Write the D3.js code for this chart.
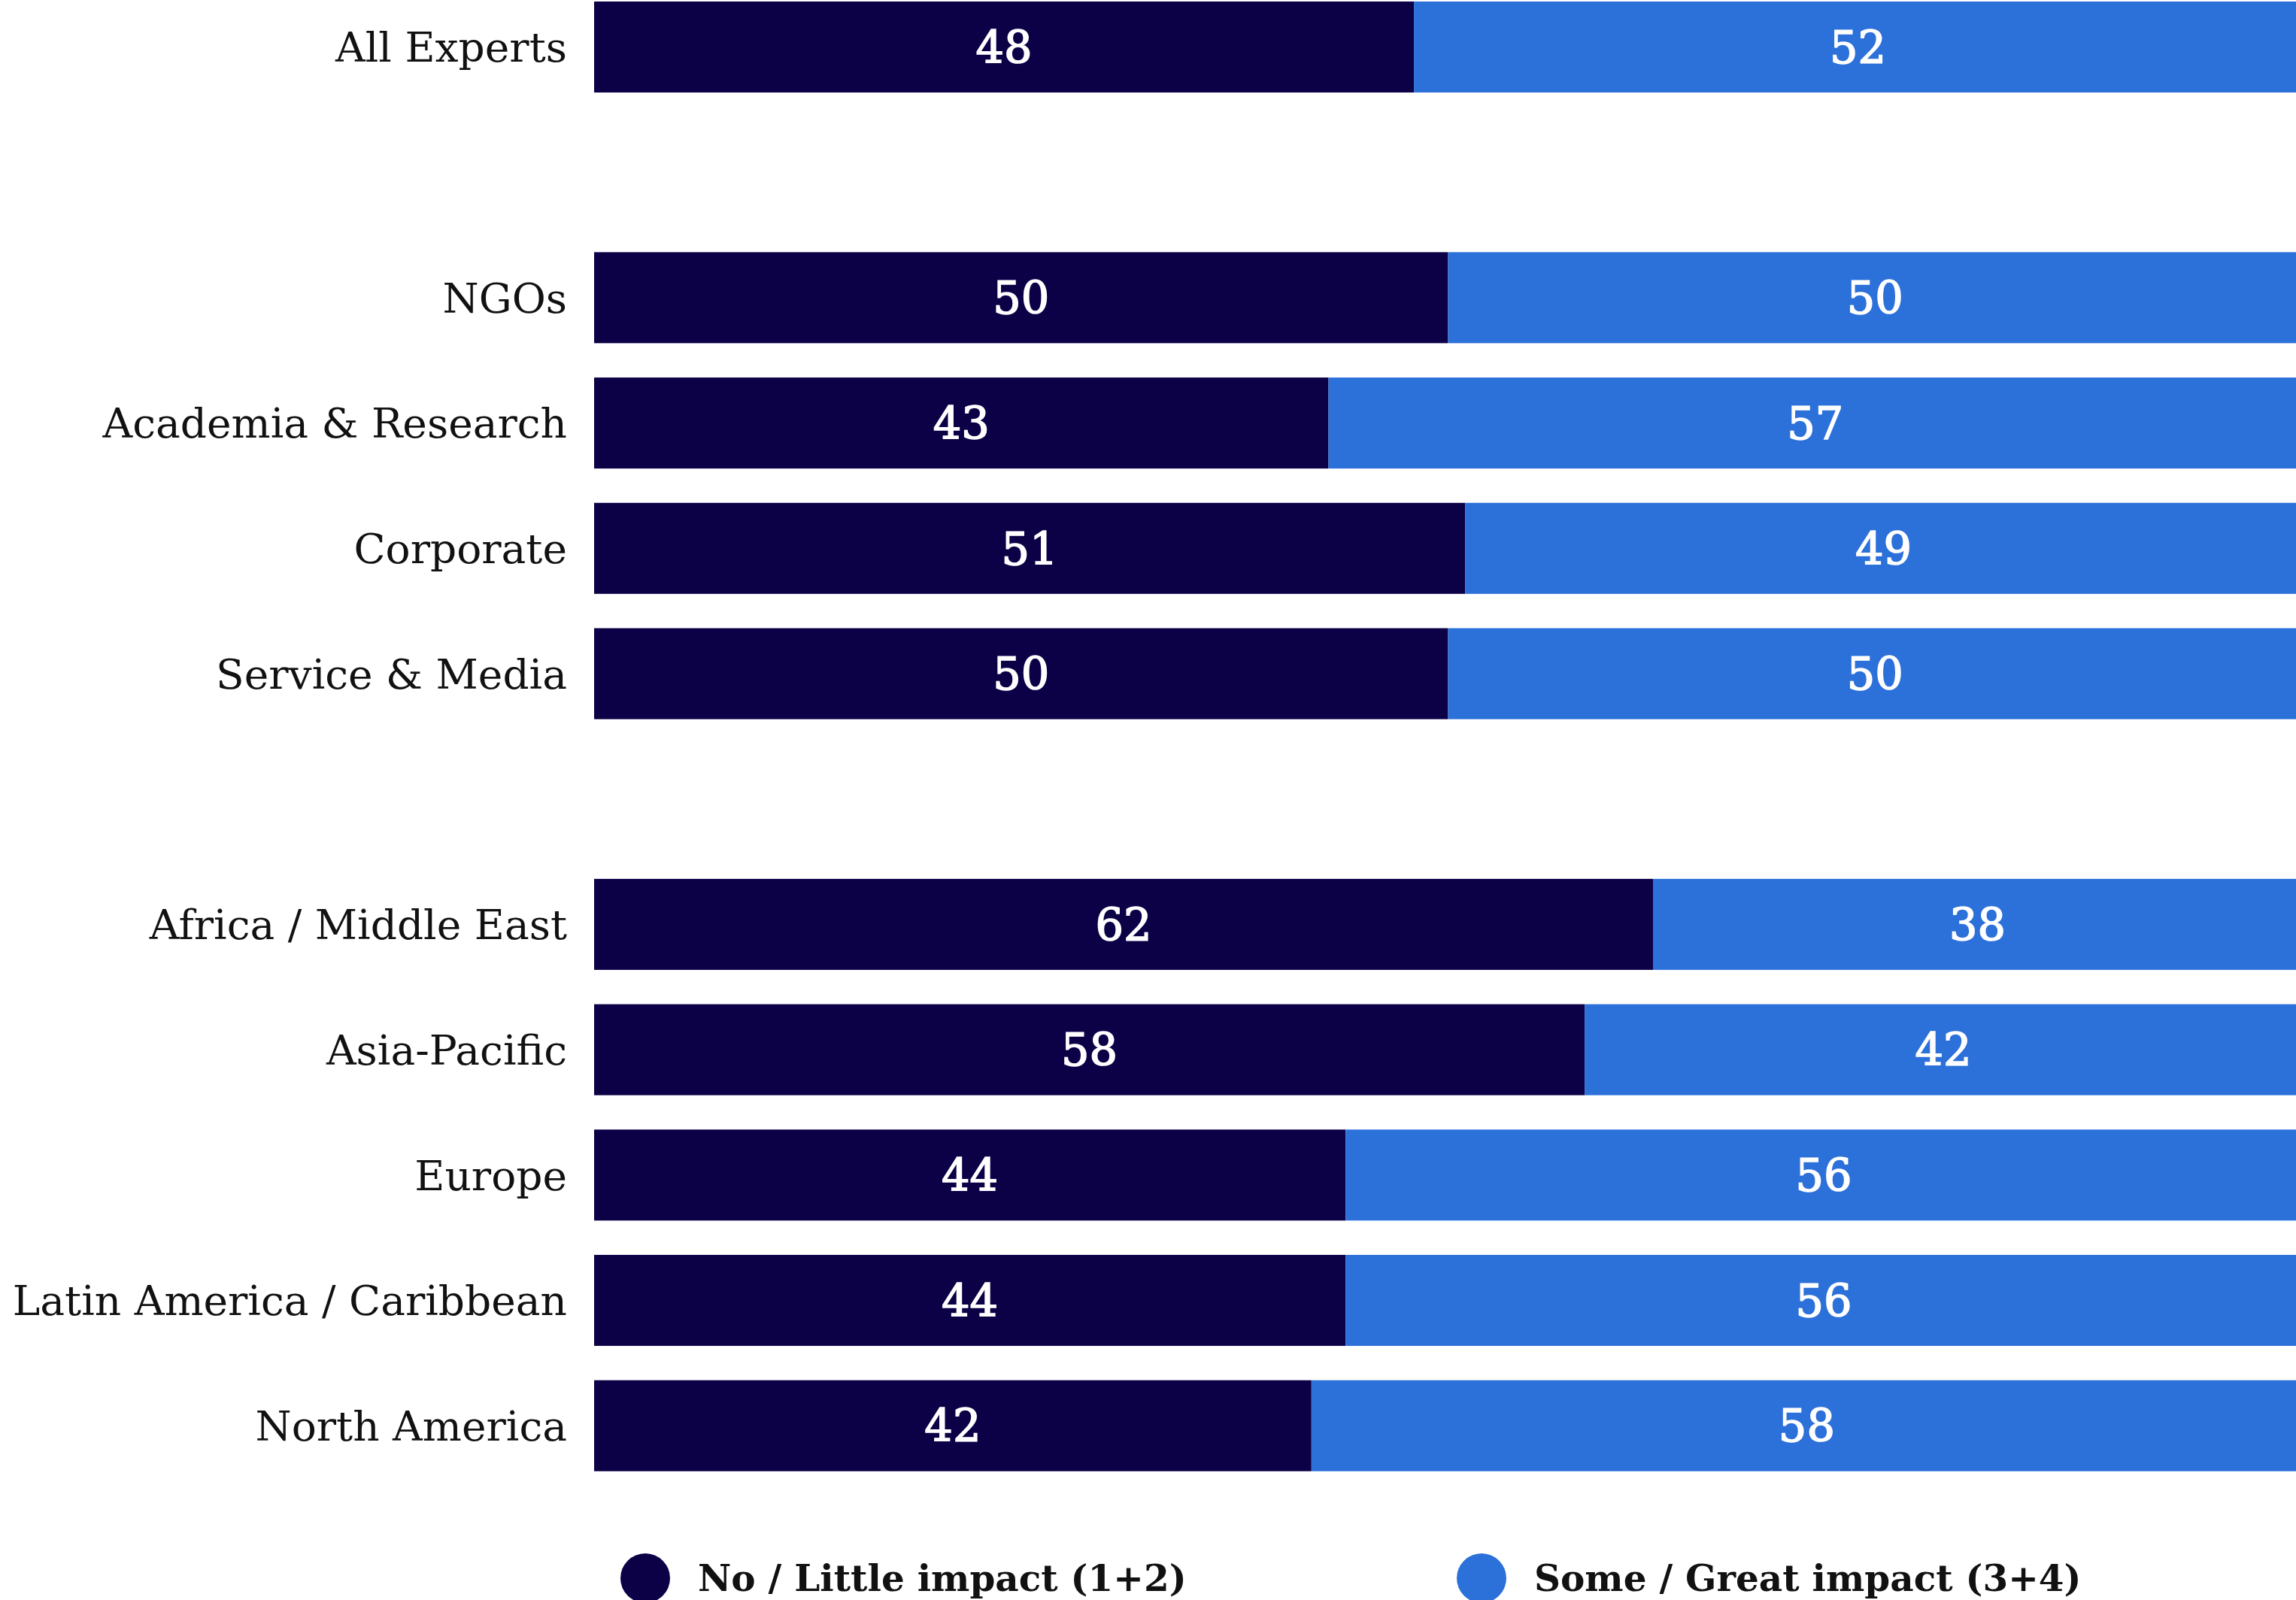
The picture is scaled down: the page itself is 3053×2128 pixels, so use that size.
<!DOCTYPE html>
<html><head><meta charset="utf-8">
<script src="https://cdn.jsdelivr.net/npm/d3@7"></script>
<style>html,body{margin:0;padding:0;background:#fff;overflow:hidden}</style>
</head><body>
<svg id="chart" width="3053" height="2128"></svg>
<script>
const categories = ["All Experts", "", "NGOs", "Academia & Research", "Corporate", "Service & Media", " ", "Africa / Middle East", "Asia-Pacific", "Europe", "Latin America / Caribbean", "North America"];
const noLittle =   [48, null, 50, 43, 51, 50, null, 62, 58, 44, 44, 42];
const someGreat =  [52, null, 50, 57, 49, 50, null, 38, 42, 56, 56, 58];
const seriesNames = ["No / Little impact (1+2)", "Some / Great impact (3+4)"];
const colors = ["#0c0046", "#2c70da"];

const W = 3053, H = 2128;
const svg = d3.select("#chart");
const font = "'DejaVu Serif', serif";

const pad = 0.274, step = 166.7;
const y = d3.scaleBand().domain(categories).range([2, 2 + step * (categories.length - pad)]).paddingInner(pad).paddingOuter(0).align(0);
const x = d3.scaleLinear().domain([0, 100]).range([790, 3061]);

const rows = categories.map((c, i) => ({c, a: noLittle[i], b: someGreat[i]})).filter(d => d.a != null);

const g = svg.append("g");
rows.forEach(d => {
  const segs = [{v0: 0, v1: d.a, val: d.a, k: 0}, {v0: d.a, v1: d.a + d.b, val: d.b, k: 1}];
  segs.forEach(s => {
    g.append("rect").attr("x", x(s.v0)).attr("y", y(d.c)).attr("width", x(s.v1) - x(s.v0)).attr("height", y.bandwidth()).attr("fill", colors[s.k]);
    g.append("text").attr("x", (x(s.v0) + x(s.v1)) / 2).attr("y", y(d.c) + y.bandwidth() / 2).attr("dy", "0.36em")
      .attr("text-anchor", "middle").attr("fill", "#fff").attr("stroke", "#fff").attr("stroke-width", 1.6)
      .attr("font-family", font).attr("font-size", 59).text(s.val);
  });
});

// category axis labels
const yAxis = d3.axisLeft(y).tickSize(0).tickPadding(0).tickValues(rows.map(d => d.c));
const ax = svg.append("g").attr("transform", "translate(754,0)").call(yAxis);
ax.select(".domain").remove();
ax.selectAll("text").attr("font-family", font).attr("font-size", 55).attr("fill", "#111").attr("dy", "0.36em");

// legend
const legX = [858, 1970];
const leg = svg.append("g");
seriesNames.forEach((n, i) => {
  leg.append("circle").attr("cx", legX[i]).attr("cy", 2099).attr("r", 33).attr("fill", colors[i]);
  leg.append("text").attr("x", legX[i] + 70).attr("y", 2099).attr("dy", "0.36em").attr("font-family", font)
    .attr("font-weight", "bold").attr("font-size", 48.5).attr("fill", "#111").text(n);
});
</script>
</body></html>
